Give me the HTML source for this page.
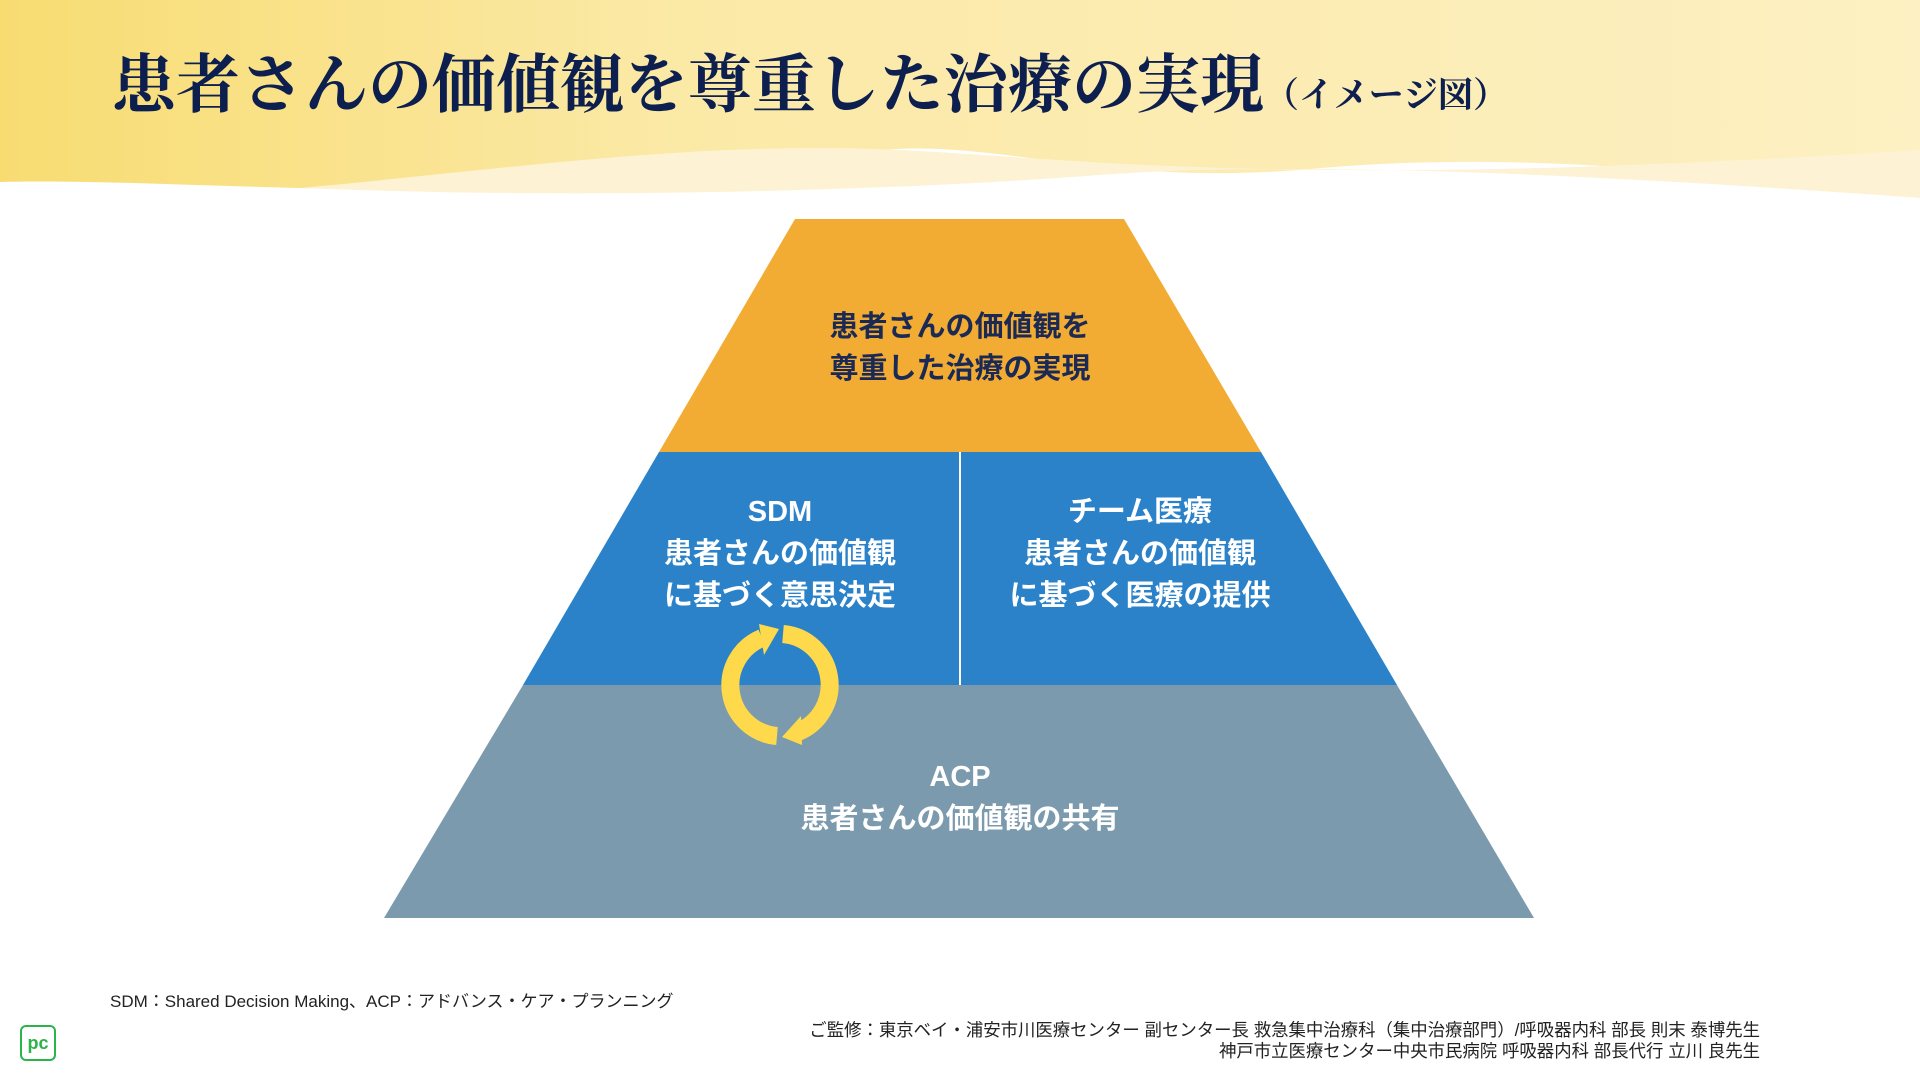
<!DOCTYPE html>
<html><head><meta charset="utf-8"><style>
body{margin:0;width:1920px;height:1080px;position:relative;overflow:hidden;background:#fff;font-family:"Liberation Sans","Noto Sans CJK JP",sans-serif}
.t{position:absolute;text-align:center;font-weight:bold;font-size:29px;line-height:42px;white-space:nowrap}
</style></head><body>
<svg width="1920" height="1080" style="position:absolute;left:0;top:0">
<defs><linearGradient id="g" x1="0" x2="1" y1="0" y2="0"><stop offset="0" stop-color="#f8dc72"/><stop offset="0.35" stop-color="#fbe9a6"/><stop offset="1" stop-color="#fdf0c2"/></linearGradient></defs>
<path d="M0 0H1920V198C1700 170 1500 150 1300 170C1100 185 1000 140 880 150C700 165 500 195 300 188C180 185 80 180 0 182Z" fill="url(#g)"/>
<path d="M300 188C500 170 700 140 900 150C1100 160 1300 190 1920 150V198C1600 175 1300 160 1100 175C900 190 600 200 300 188Z" fill="#fdf3d4"/>
<polygon points="795,219 1124,219 1261,452 659,452" fill="#f2ab33"/>
<polygon points="659,452 1261,452 1397,685 523,685" fill="#2b82c8"/>
<polygon points="523,685 1397,685 1534,918 384,918" fill="#7b9aae"/>
<line x1="960" y1="452" x2="960" y2="685" stroke="#fff" stroke-width="2"/>
<g fill="none" stroke="#fdd94b" stroke-width="18">
<path d="M777 736 A51 51 0 0 1 762 638"/>
<path d="M783 634 A51 51 0 0 1 798 732"/>
</g>
<polygon points="759,624 779,629 764,655" fill="#fdd94b"/>
<polygon points="801,716 782,737 802,745" fill="#fdd94b"/>
</svg>
<div style="position:absolute;left:112px;top:34px;font-family:'Liberation Serif','Noto Serif CJK JP',serif;font-weight:bold;font-size:64px;color:#0d1f4f;white-space:nowrap">患者さんの価値観を尊重した治療の実現<span style="font-size:35px">（イメージ図）</span></div>
<div class="t" style="left:760px;width:400px;top:306px;color:#1a2a55">患者さんの価値観を<br>尊重した治療の実現</div>
<div class="t" style="left:580px;width:400px;top:491px;color:#fff">SDM<br>患者さんの価値観<br>に基づく意思決定</div>
<div class="t" style="left:940px;width:400px;top:491px;color:#fff">チーム医療<br>患者さんの価値観<br>に基づく医療の提供</div>
<div class="t" style="left:760px;width:400px;top:756px;color:#fff">ACP<br>患者さんの価値観の共有</div>
<div style="position:absolute;left:110px;top:987px;font-size:17px;color:#222">SDM：Shared Decision Making、ACP：アドバンス・ケア・プランニング</div>
<div style="position:absolute;right:160px;top:1020px;font-size:17.4px;line-height:21px;color:#222;text-align:right;white-space:nowrap">ご監修：東京ベイ・浦安市川医療センター 副センター長 救急集中治療科（集中治療部門）/呼吸器内科 部長 則末 泰博先生<br>神戸市立医療センター中央市民病院 呼吸器内科 部長代行 立川 良先生</div>
<div style="position:absolute;left:20px;top:1025px;width:32px;height:32px;border:2px solid #2cb34a;border-radius:6px;color:#2cb34a;font-weight:bold;font-size:18px;line-height:32px;text-align:center">pc</div>
</body></html>
